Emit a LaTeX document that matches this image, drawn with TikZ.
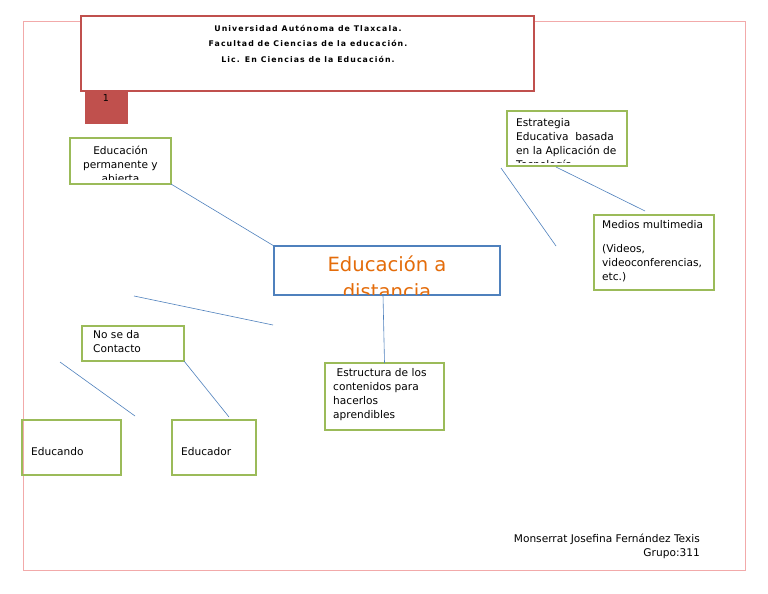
\documentclass[tikz,border=0pt]{standalone}
\usepackage{fontspec}
\setmainfont{DejaVu Sans}
\newfontfamily\titlefont{DejaVu Sans}[LetterSpace=14]
\definecolor{gborder}{RGB}{155,187,89}
\definecolor{bborder}{RGB}{79,129,189}
\definecolor{rborder}{RGB}{192,80,77}
\definecolor{pageb}{RGB}{242,170,170}
\definecolor{lineb}{RGB}{79,129,189}
\definecolor{orangetx}{RGB}{228,108,10}
\tikzset{
  gbox/.style={draw=gborder, line width=2pt, rectangle, inner sep=0pt, outer sep=0pt, anchor=north west},
  txt/.style={inner sep=0pt, anchor=north west, font=\fontsize{10.6}{14.2}\selectfont, align=left},
  link/.style={draw=lineb, line width=0.6pt},
}
\begin{document}
\begin{tikzpicture}[x=1pt,y=-1pt]
\useasboundingbox (0,0) rectangle (768,594);
\fill[white] (0,0) rectangle (768,594);
% page border
\node[draw=pageb, line width=1pt, rectangle, inner sep=0pt, outer sep=0pt, anchor=north west,
      minimum width=722pt, minimum height=548pt] (page) at (23,22) {};
% title
\node[draw=rborder, line width=2pt, fill=white, rectangle, inner sep=0pt, outer sep=0pt, anchor=north west,
      minimum width=453pt, minimum height=75pt] (title) at (81,16) {};
\node[inner sep=0pt, anchor=north, align=center, font=\titlefont\bfseries\fontsize{7.8}{15.5}\selectfont] (titletxt) at (308,25)
  {Universidad Autónoma de Tlaxcala.\\Facultad de Ciencias de la educación.\\Lic. En Ciencias de la Educación.};
% red square
\node[fill=rborder, rectangle, inner sep=0pt, outer sep=0pt, anchor=north west,
      minimum width=43pt, minimum height=32pt] (num) at (85,92) {};
\node[inner sep=0pt, anchor=north, font=\fontsize{9.5}{10}\selectfont] (numtxt) at (106,94) {1};
% Educacion permanente
\node[gbox, minimum width=101pt, minimum height=46pt] (perm) at (70,138) {};
\begin{scope}
\clip (71,139) rectangle (170,179);
\node[txt, anchor=north, align=center, font=\fontsize{10.6}{13.8}\selectfont] (permtxt) at (120.5,146) {Educación\\permanente y\\abierta};
\end{scope}
% central
\node[draw=bborder, line width=2pt, rectangle, inner sep=0pt, outer sep=0pt, anchor=north west,
      minimum width=226pt, minimum height=49pt] (centro) at (274,246) {};
\begin{scope}
\clip (275,247) rectangle (499,294);
\node[inner sep=0pt, anchor=north, align=center, text=orangetx, font=\fontsize{19.6}{27}\selectfont] (centrotxt) at (387,256) {Educación a\\distancia};
\end{scope}
% Estrategia
\node[gbox, minimum width=120pt, minimum height=55pt] (estrat) at (507,111) {};
\begin{scope}
\clip (508,112) rectangle (626,162.5);
\node[txt, font=\fontsize{10.6}{13.8}\selectfont] (estrattxt) at (516,118.5) {Estrategia\\Educativa\ \ basada\\en la Aplicación de\\Tecnología};
\end{scope}
% Medios
\node[gbox, minimum width=120pt, minimum height=75pt] (medios) at (594,215) {};
\node[txt] (mediostxt1) at (602,220) {Medios multimedia};
\node[txt] (mediostxt2) at (602,244) {(Videos,\\videoconferencias,\\etc.)};
% Estructura
\node[gbox, minimum width=119pt, minimum height=67pt] (estr) at (325,363) {};
\node[txt] (estrtxt) at (333,368) {\ Estructura de los\\contenidos para\\hacerlos\\aprendibles};
% No se da contacto
\node[gbox, minimum width=102pt, minimum height=35pt] (nose) at (82,326) {};
\node[txt] (nosetxt) at (93,330) {No se da\\Contacto};
% Educando / Educador
\node[gbox, minimum width=99pt, minimum height=55pt] (educando) at (22,420) {};
\node[txt] (educandotxt) at (31,447) {Educando};
\node[gbox, minimum width=84pt, minimum height=55pt] (educador) at (172,420) {};
\node[txt] (educadortxt) at (181,447) {Educador};
% footer
\node[inner sep=0pt, anchor=north east, align=right, font=\fontsize{10.6}{13.5}\selectfont] (footer) at (700,534)
  {Monserrat Josefina Fernández Texis\\Grupo:311};
% connectors
\coordinate (f1) at (134,296);
\coordinate (f2) at (273,325);
\coordinate (f3) at (60,362);
\coordinate (f4) at (135,416);
\coordinate (f5) at (229,417);
\coordinate (f6) at (501,168);
\coordinate (f7) at (556,246);
\coordinate (f8) at (556,167);
\coordinate (f9) at (645,211);
\draw[link] (perm.south east) -- (centro.north west);
\draw[link] ([xshift=-4pt]centro.south) -- (estr.north);
\draw[link] (f1) -- (f2);
\draw[link] (f3) -- (f4);
\draw[link] (nose.south east) -- (f5);
\draw[link] (f6) -- (f7);
\draw[link] (f8) -- (f9);
\end{tikzpicture}
\end{document}
